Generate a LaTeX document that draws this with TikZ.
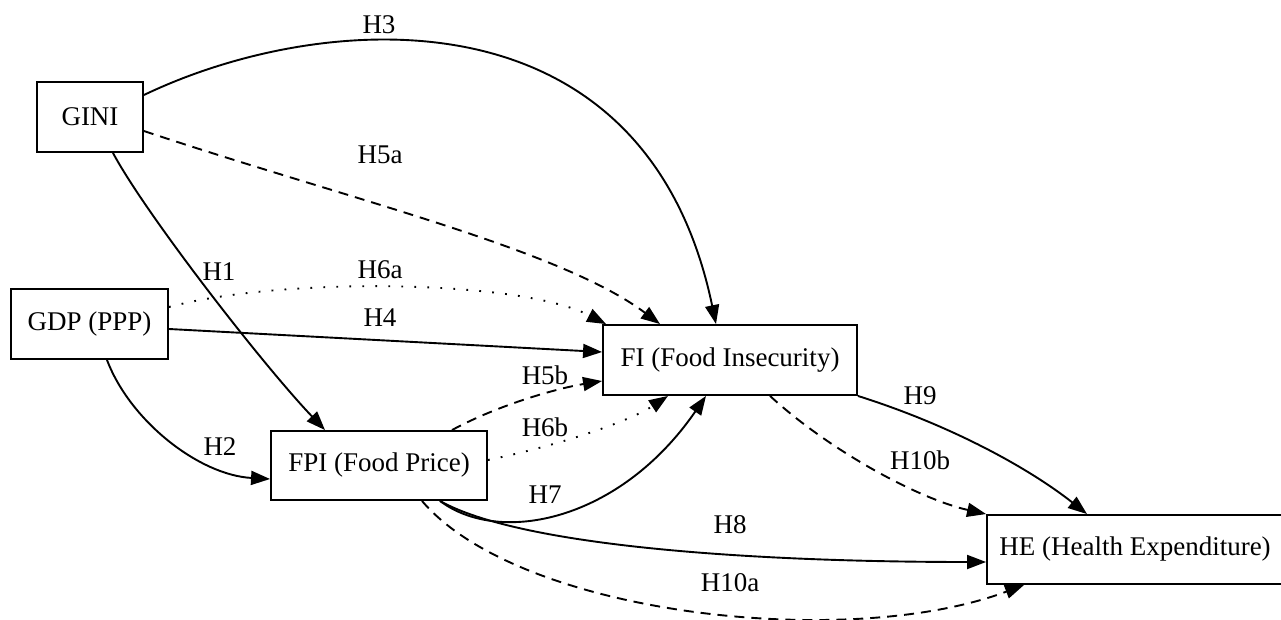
\documentclass[tikz,border=0pt]{standalone}
\usepackage{fontspec}
\setmainfont{Liberation Serif}
\usetikzlibrary{arrows.meta,calc}
\begin{document}
\begin{tikzpicture}[x=0.5pt,y=-0.5pt,
  every node/.style={font=\fontsize{13.5}{16}\selectfont},
  box/.style={draw,line width=0.95pt,rectangle,inner sep=0pt,minimum height=35pt},
  lbl/.style={inner sep=1pt},
  conn/.style={line width=0.95pt,-{Triangle[length=9.5pt,width=7pt]}},
  dsh/.style={conn,dash pattern=on 5pt off 3.5pt},
  dtt/.style={conn,dash pattern=on 0.9pt off 5.6pt}]
\useasboundingbox (0,0) rectangle (1281,620);
\fill[white] (0,0) rectangle (1281,620);
% nodes
\node[box,minimum width=53pt] (gini) at (90,117) {GINI};
\node[box,minimum width=78.5pt] (gdp) at (89.5,324) {GDP (PPP)};
\node[box,minimum width=108pt,minimum height=34.5pt] (fpi) at (379,465.5) {FPI (Food Price)};
\node[box,minimum width=127pt] (fi) at (730,360) {FI (Food Insecurity)};
\node[box,minimum width=148pt,minimum height=34.5pt] (he) at (1135,549.5) {HE (Health Expenditure)};
% labels
\node[lbl] (l3) at (379,25) {H3};
\node[lbl] (l5a) at (380,155) {H5a};
\node[lbl] (l1) at (219,272) {H1};
\node[lbl] (l6a) at (380,270) {H6a};
\node[lbl] (l4) at (380,318) {H4};
\node[lbl] (l2) at (220,447) {H2};
\node[lbl] (l5b) at (545,375) {H5b};
\node[lbl] (l6b) at (545,427) {H6b};
\node[lbl] (l7) at (545,495) {H7};
\node[lbl] (l8) at (730,525) {H8};
\node[lbl] (l10a) at (730,583) {H10a};
\node[lbl] (l9) at (920,396) {H9};
\node[lbl] (l10b) at (920,460) {H10b};
% connectors
\draw[conn] ([yshift=11pt]gini.east) .. controls +(177,-85) and +(-71,-340) .. ([xshift=-7pt]fi.north);
\draw[dsh] ([yshift=-7pt]gini.east) .. controls +(207,69) and +(-100,-75) .. ([xshift=-35pt]fi.north);
\draw[conn] ([xshift=11.5pt]gini.south) .. controls +(32,60) and +(-63,-66) .. ([xshift=-27pt]fpi.north);
\draw[dtt] ([yshift=8.5pt]gdp.east) .. controls +(112,-30) and +(-87,-45) .. ([xshift=2pt]fi.north west);
\draw[conn] ([yshift=-2.5pt]gdp.east) -- ([yshift=4pt]fi.west);
\draw[conn] ([xshift=8.75pt]gdp.south) .. controls +(23,61) and +(-71,-4) .. ([yshift=-6.75pt]fpi.west);
\draw[dsh] ([xshift=36.5pt]fpi.north) .. controls +(48,-26) and +(-43,7) .. ([yshift=-10.5pt]fi.west);
\draw[dtt] ([yshift=2.75pt]fpi.east) .. controls +(73,-15) and +(-38,25) .. ([xshift=-31pt]fi.south);
\draw[conn] ([xshift=30.5pt]fpi.south) .. controls +(60,45) and +(-86,125) .. ([xshift=-12pt]fi.south);
\draw[conn] ([xshift=30.5pt]fpi.south) .. controls +(80,45) and +(-237,0) .. ([yshift=-6.25pt]he.west);
\draw[dsh] ([xshift=21.5pt]fpi.south) .. controls +(98,115) and +(-175,66) .. ([xshift=19pt]he.south west);
\draw[conn] (fi.south east) .. controls +(95,30) and +(-57,-45) .. ([xshift=-24pt]he.north);
\draw[dsh] ([xshift=20pt]fi.south) .. controls +(60,55) and +(-67,-15) .. (he.north west);
\end{tikzpicture}
\end{document}
